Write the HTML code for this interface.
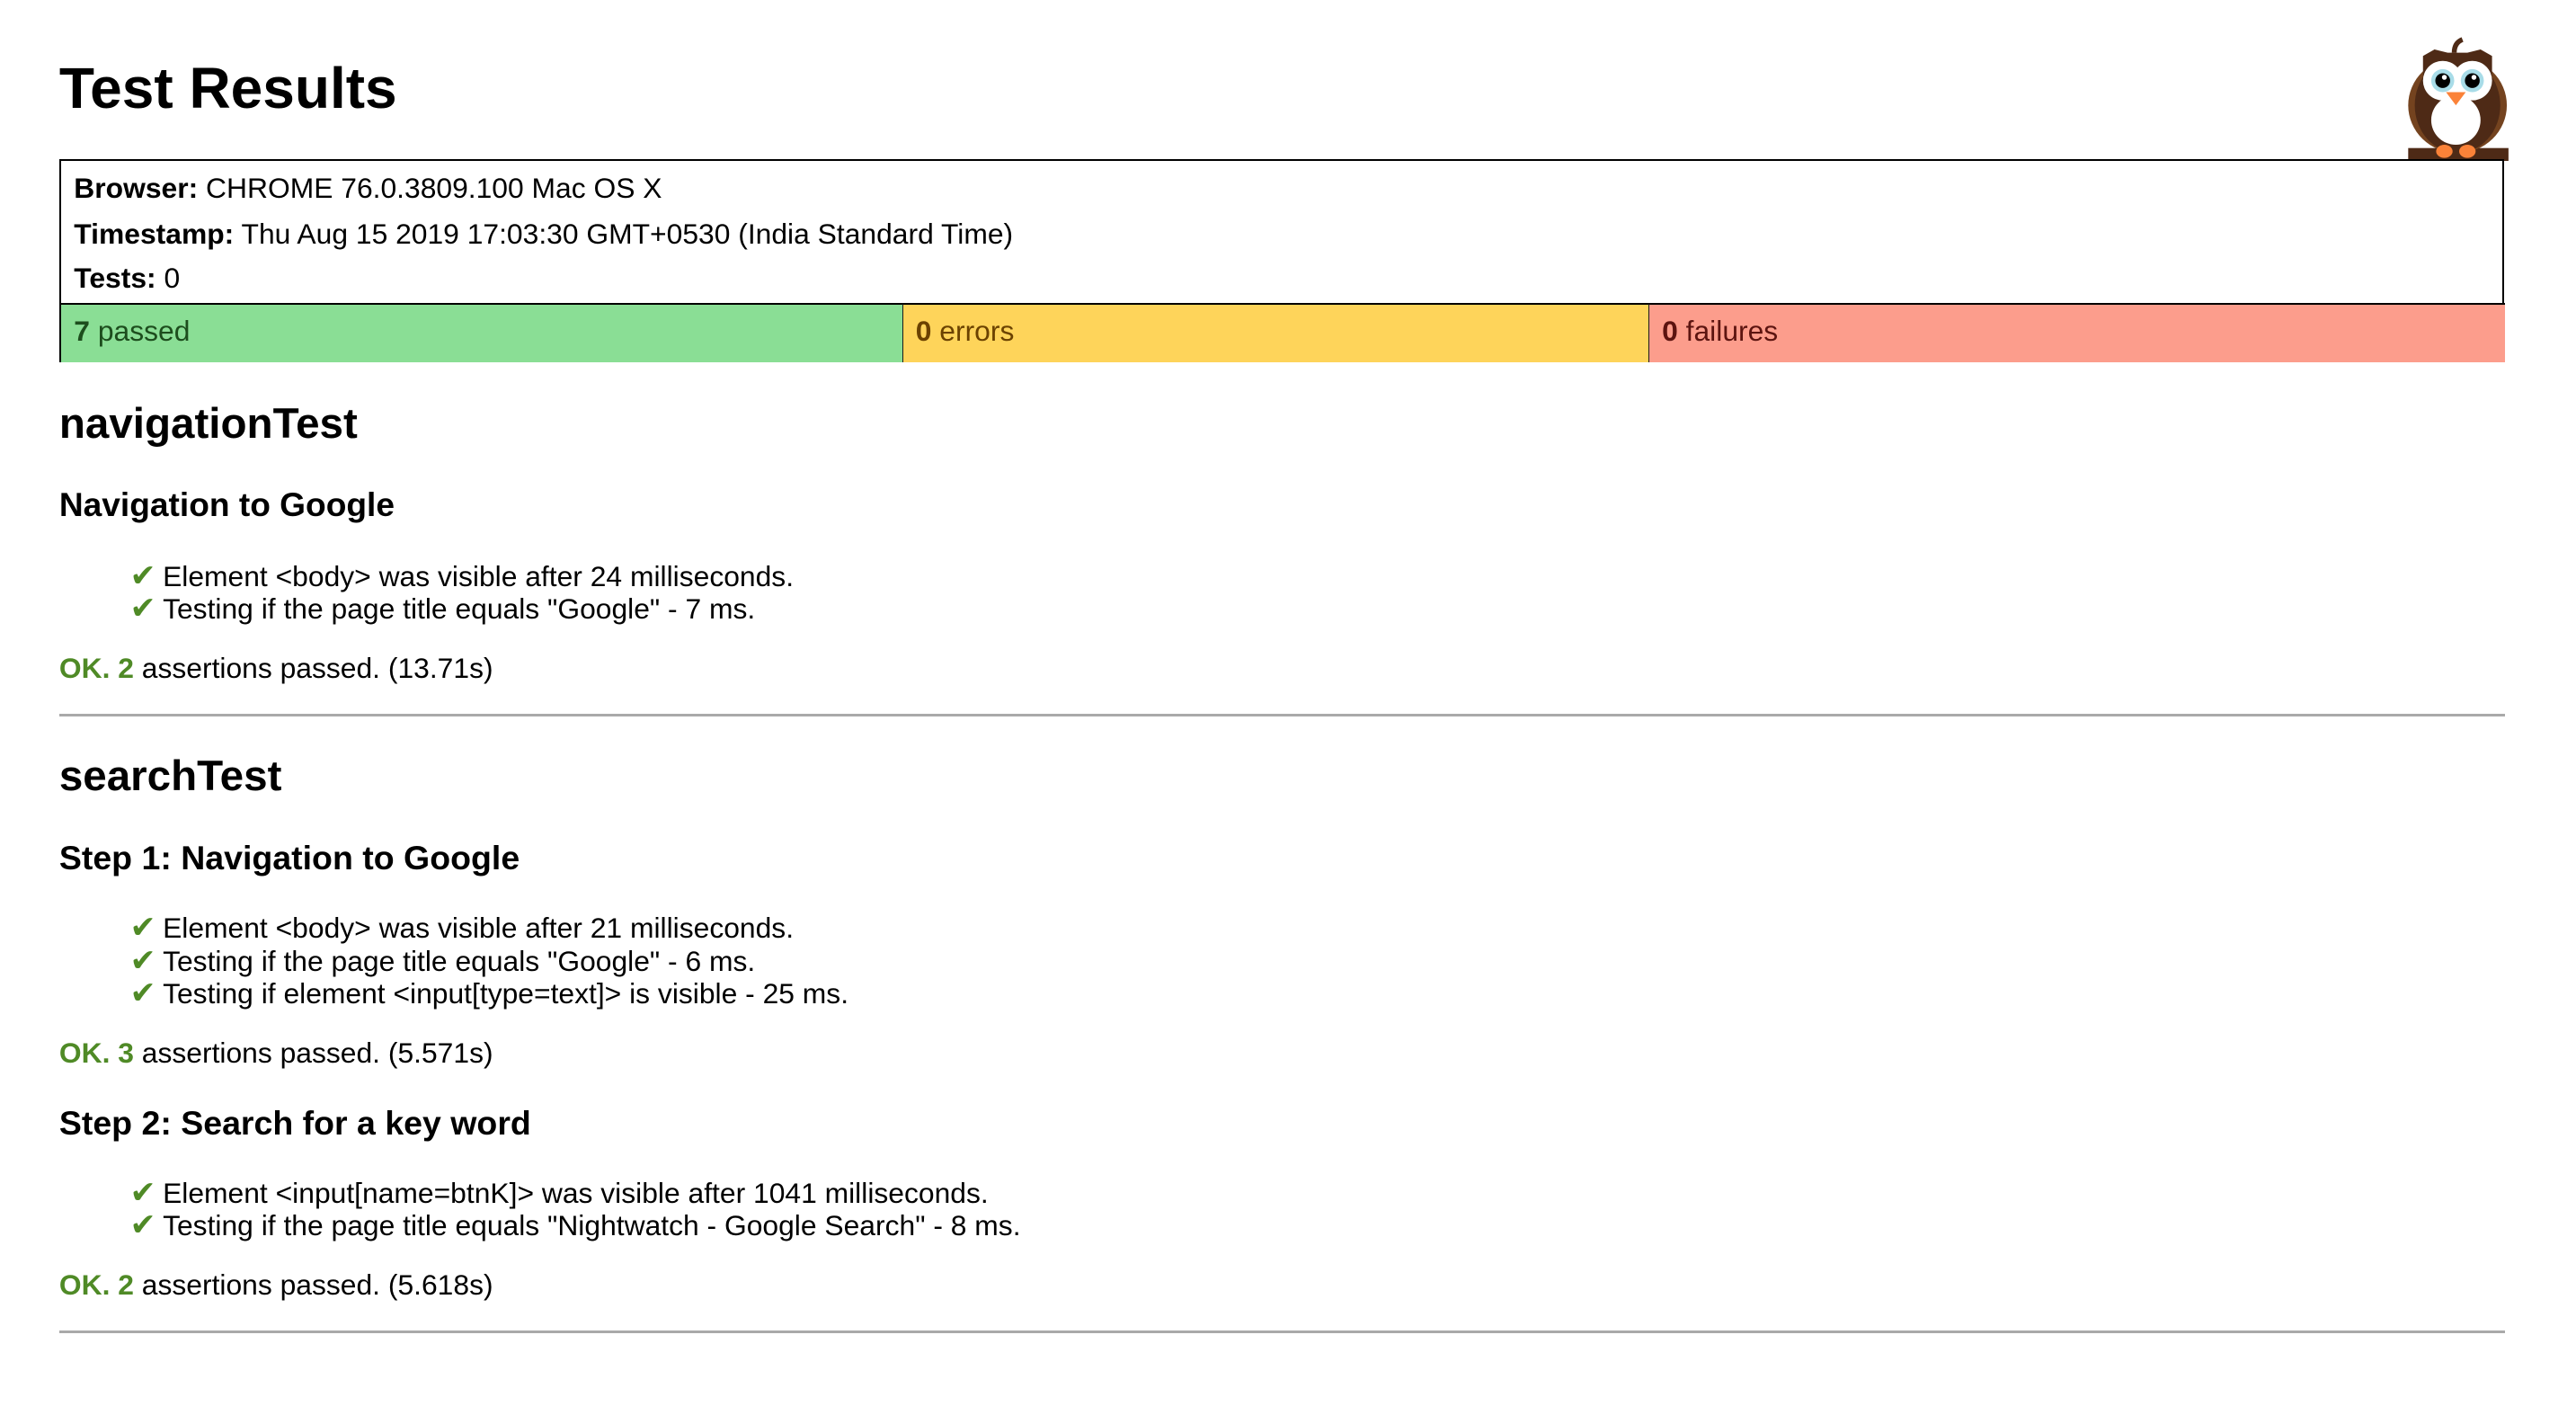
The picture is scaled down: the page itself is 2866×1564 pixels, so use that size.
<!DOCTYPE html>
<html><head><meta charset="utf-8"><style>
html,body{margin:0;padding:0;background:#fff;width:2866px;height:1562px;overflow:hidden}
#w{position:absolute;left:0;top:0;width:1570px;height:855px;zoom:1.829;font-family:"Liberation Sans",Arial,sans-serif;color:#000}
.t{position:absolute;line-height:1;white-space:nowrap}
.b{font-weight:bold}
.ok{color:#4f8a26;font-weight:bold}
.ck{color:#4f8a26;font-family:"DejaVu Sans",sans-serif;font-weight:bold;font-size:19px;display:inline-block;width:20px}
hr{position:absolute;left:36px;width:1488px;margin:0;border:0;height:2px;background:#a9a9a9}
</style></head><body><div id="w">
<div class="t b" style="left:36px;top:36px;font-size:35px">Test Results</div>

<svg style="position:absolute;left:1461px;top:18px" width="68" height="80" viewBox="0 0 68 80">
<rect x="4" y="72" width="61" height="8" fill="#4e2a16"/>
<ellipse cx="34" cy="46" rx="30" ry="29" fill="#74431f"/>
<ellipse cx="34" cy="46" rx="26" ry="29" fill="#4e2a16"/>
<polygon points="13,16 20,12 28,14 40,14 48,12 55,16 55,30 13,30" fill="#4e2a16"/>
<path d="M32 14 q0-6 5-8" stroke="#4e2a16" stroke-width="3" fill="none"/>
<circle cx="25" cy="31" r="12" fill="#fff"/><circle cx="43" cy="31" r="12" fill="#fff"/>
<circle cx="25" cy="31" r="7" fill="#a8dce8"/><circle cx="43" cy="31" r="7" fill="#a8dce8"/>
<circle cx="25" cy="31" r="4.5" fill="#000"/><circle cx="43" cy="31" r="4.5" fill="#000"/>
<circle cx="26" cy="29" r="1.5" fill="#fff"/><circle cx="44" cy="29" r="1.5" fill="#fff"/>
<ellipse cx="33" cy="55" rx="15" ry="15" fill="#fff"/>
<polygon points="27,38 39,38 33,46" fill="#fb8238"/>
<ellipse cx="26" cy="74" rx="5" ry="4" fill="#fb8238"/><ellipse cx="40" cy="74" rx="5" ry="4" fill="#fb8238"/>
</svg>

<div style="position:absolute;left:36px;top:97px;width:1485px;height:121px;border:1.5px solid #000;box-sizing:content-box"></div>
<div style="position:absolute;left:37px;top:184px;width:512px;height:35px;background:#8ade95;border-top:1.5px solid #000"></div>
<div style="position:absolute;left:549px;top:184px;width:454px;height:35px;background:#fed45a;border-top:1.5px solid #000;border-left:1px solid #1a1a1a"></div>
<div style="position:absolute;left:1003px;top:184px;width:520px;height:35px;background:#fc9d8c;border-top:1.5px solid #000;border-left:1px solid #1a1a1a"></div>

<div class="t" style="left:45px;top:106px;font-size:17.4px"><b>Browser:</b> CHROME 76.0.3809.100 Mac OS X</div>
<div class="t" style="left:45px;top:134px;font-size:17.4px"><b>Timestamp:</b> Thu Aug 15 2019 17:03:30 GMT+0530 (India Standard Time)</div>
<div class="t" style="left:45px;top:161px;font-size:17.4px"><b>Tests:</b> 0</div>
<div class="t" style="left:45px;top:193px;font-size:17.4px;color:#1d4d1d"><b>7</b> passed</div>
<div class="t" style="left:557px;top:193px;font-size:17.4px;color:#6b4200"><b>0</b> errors</div>
<div class="t" style="left:1011px;top:193px;font-size:17.4px;color:#5c1410"><b>0</b> failures</div>

<div class="t b" style="left:36px;top:245px;font-size:26px">navigationTest</div>
<div class="t b" style="left:36px;top:297px;font-size:20.3px">Navigation to Google</div>
<div class="t" style="left:79px;top:341px;font-size:17.4px"><span class="ck">✔</span>Element &lt;body&gt; was visible after 24 milliseconds.</div>
<div class="t" style="left:79px;top:361px;font-size:17.4px"><span class="ck">✔</span>Testing if the page title equals "Google" - 7 ms.</div>
<div class="t" style="left:36px;top:398px;font-size:17.4px"><span class="ok">OK. 2</span> assertions passed. (13.71s)</div>
<hr style="top:434px">

<div class="t b" style="left:36px;top:459px;font-size:26px">searchTest</div>
<div class="t b" style="left:36px;top:512px;font-size:20.5px">Step 1: Navigation to Google</div>
<div class="t" style="left:79px;top:555px;font-size:17.4px"><span class="ck">✔</span>Element &lt;body&gt; was visible after 21 milliseconds.</div>
<div class="t" style="left:79px;top:575px;font-size:17.4px"><span class="ck">✔</span>Testing if the page title equals "Google" - 6 ms.</div>
<div class="t" style="left:79px;top:595px;font-size:17.4px"><span class="ck">✔</span>Testing if element &lt;input[type=text]&gt; is visible - 25 ms.</div>
<div class="t" style="left:36px;top:632px;font-size:17.4px"><span class="ok">OK. 3</span> assertions passed. (5.571s)</div>
<div class="t b" style="left:36px;top:673px;font-size:20.5px">Step 2: Search for a key word</div>
<div class="t" style="left:79px;top:716px;font-size:17.4px"><span class="ck">✔</span>Element &lt;input[name=btnK]&gt; was visible after 1041 milliseconds.</div>
<div class="t" style="left:79px;top:736px;font-size:17.4px"><span class="ck">✔</span>Testing if the page title equals "Nightwatch - Google Search" - 8 ms.</div>
<div class="t" style="left:36px;top:773px;font-size:17.4px"><span class="ok">OK. 2</span> assertions passed. (5.618s)</div>
<hr style="top:809px">
</div></body></html>
